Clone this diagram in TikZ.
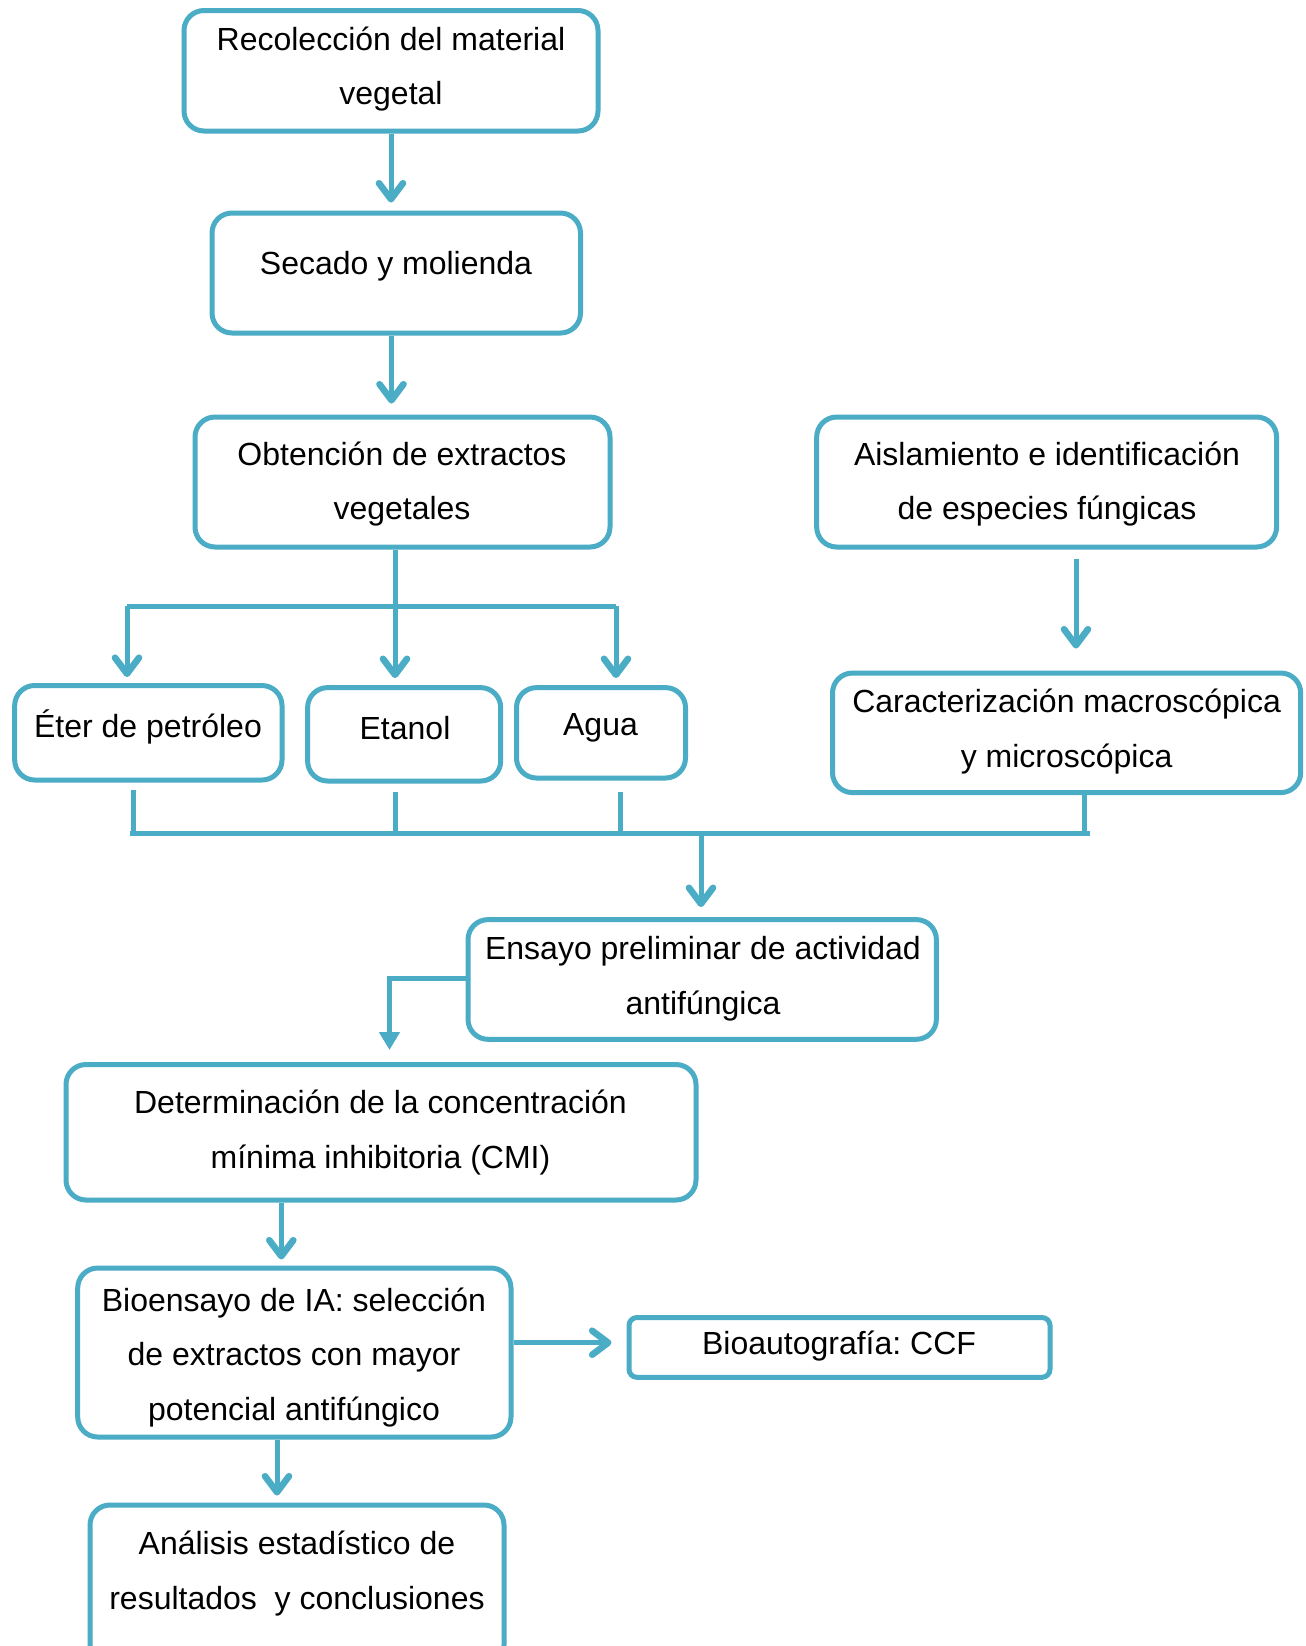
\documentclass[tikz,border=0pt]{standalone}
\usepackage{fontspec}
\setmainfont{Liberation Sans}
\usetikzlibrary{arrows.meta,fit,calc}
\definecolor{acc}{HTML}{4BACC6}
\tikzset{
  box/.style={draw=acc, line width=2.5pt, rounded corners=10pt, inner sep=0pt, rectangle},
  txt/.style={align=center, inner sep=0pt, font=\fontsize{16}{27.3}\selectfont\frenchspacing},
  ln/.style={draw=acc, line width=2.5pt},
  arr/.style={ln, -{Straight Barb[length=8pt,width=12pt,round,line width=3.3pt]}},
  arrT/.style={ln, -{Triangle[length=9pt,width=10pt]}},
}
\begin{document}
\begin{tikzpicture}[x=0.5pt,y=-0.5pt]
\useasboundingbox (0,0) rectangle (1306,1646);
\clip (0,0) rectangle (1306,1646);
\fill[white] (0,0) rectangle (1306,1646);
% boxes
\node[box, fit={(184,10.5) (598,131)}] (rec) {};
\node[box, fit={(212,213) (580.5,333)}] (sec) {};
\node[box, fit={(195,417) (610,547)}] (obt) {};
\node[box, fit={(816.7,417) (1276.6,547)}] (ais) {};
\node[box, fit={(832.5,673) (1300.7,792.6)}] (car) {};
\node[box, fit={(14.7,685.5) (282,780)}] (eter) {};
\node[box, fit={(307.6,687.6) (500.7,781)}] (eta) {};
\node[box, fit={(516.5,687.6) (685.5,778)}] (agua) {};
\node[box, fit={(468,919.6) (936.4,1039.3)}] (ens) {};
\node[box, fit={(66,1064.5) (696,1200)}] (det) {};
\node[box, fit={(77.7,1268) (511,1437)}] (bio) {};
\node[box, rounded corners=4pt, fit={(629,1317.5) (1050,1377.3)}] (bau) {};
\node[box, fit={(90,1505) (504,1665)}] (ana) {};
% texts
\node[txt] (recT) at (391,69.2) {Recolección del material\\vegetal};
\node[txt] (secT) at (396,266.7) {Secado y molienda};
\node[txt] (obtT) at (402,484.2) {Obtención de extractos\\vegetales};
\node[txt] (aisT) at (1047,484.2) {Aislamiento e identificación\\de especies fúngicas};
\node[txt] (carT) at (1066.6,731.8) {Caracterización macroscópica\\y microscópica};
\node[txt] (eterT) at (148,726.5) {Éter de petróleo};
\node[txt] (etaT) at (405,727.6) {Etanol};
\node[txt] (aguaT) at (600.5,727.6) {Agua};
\node[txt] (ensT) at (703,978.5) {Ensayo preliminar de actividad\\antifúngica};
\node[txt] (detT) at (380.5,1132.8) {Determinación de la concentración\\mínima inhibitoria (CMI)};
\node[txt] (bioT) at (294,1357.2) {Bioensayo de IA: selección\\de extractos con mayor\\potencial antifúngico};
\node[txt] (bauT) at (839,1345.9) {Bioautografía: CCF};
\node[txt] (anaT) at (297,1573.7) {Análisis estadístico de\\resultados\ \ y conclusiones};
% reference coordinates
\coordinate (jc) at (395,606);
\coordinate (jl) at (127,606);
\coordinate (jr) at (616,606);
\coordinate (xa) at (1076,0);
\coordinate (xs) at (391.5,0);
\coordinate (d1) at (133.3,833.5);
\coordinate (d2) at (395.8,833.5);
\coordinate (d3) at (620.4,833.5);
\coordinate (d4) at (1084.5,833.5);
\coordinate (bl) at (130,833.5);
\coordinate (br) at (1089.7,833.5);
\coordinate (bm) at (701,833.5);
\coordinate (e1) at (389.5,978.4);
\coordinate (k1) at (281.3,0);
\coordinate (k2) at (0,1342.7);
\coordinate (k3) at (277,0);
% connectors
\draw[arr, shorten >=4pt] (rec.south) -- (rec.south |- sec.north);
\draw[arr, shorten >=5.5pt] (xs |- sec.south) -- (xs |- obt.north);
\draw[ln] (jc |- obt.south) -- (jc);
\draw[ln] (jl) -- (jr);
\draw[arr, shorten >=3pt] (jl) -- (jl |- eter.north);
\draw[arr, shorten >=3.5pt] (jc) -- (jc |- eta.north);
\draw[arr, shorten >=3.5pt] (jr) -- (jr |- agua.north);
\draw[arr, shorten <=4.5pt, shorten >=11pt] (xa |- ais.south) -- (xa |- car.north);
\draw[ln, shorten <=3.5pt] (d1 |- eter.south) -- (d1);
\draw[ln, shorten <=4pt] (d2 |- eta.south) -- (d2);
\draw[ln, shorten <=5.5pt] (d3 |- agua.south) -- (d3);
\draw[ln] (d4 |- car.south) -- (d4);
\draw[ln] (bl) -- (br);
\draw[arr, shorten >=5pt] (bm) -- (bm |- ens.north);
\draw[arrT, shorten >=6pt] (ens.west |- e1) -- (e1) -- (e1 |- det.north);
\draw[arr, shorten >=3pt] (k1 |- det.south) -- (k1 |- bio.north);
\draw[arr, shorten >=7.5pt] (bio.east |- k2) -- (bau.west |- k2);
\draw[arr, shorten >=3.5pt] (k3 |- bio.south) -- (k3 |- ana.north);
\end{tikzpicture}
\end{document}
